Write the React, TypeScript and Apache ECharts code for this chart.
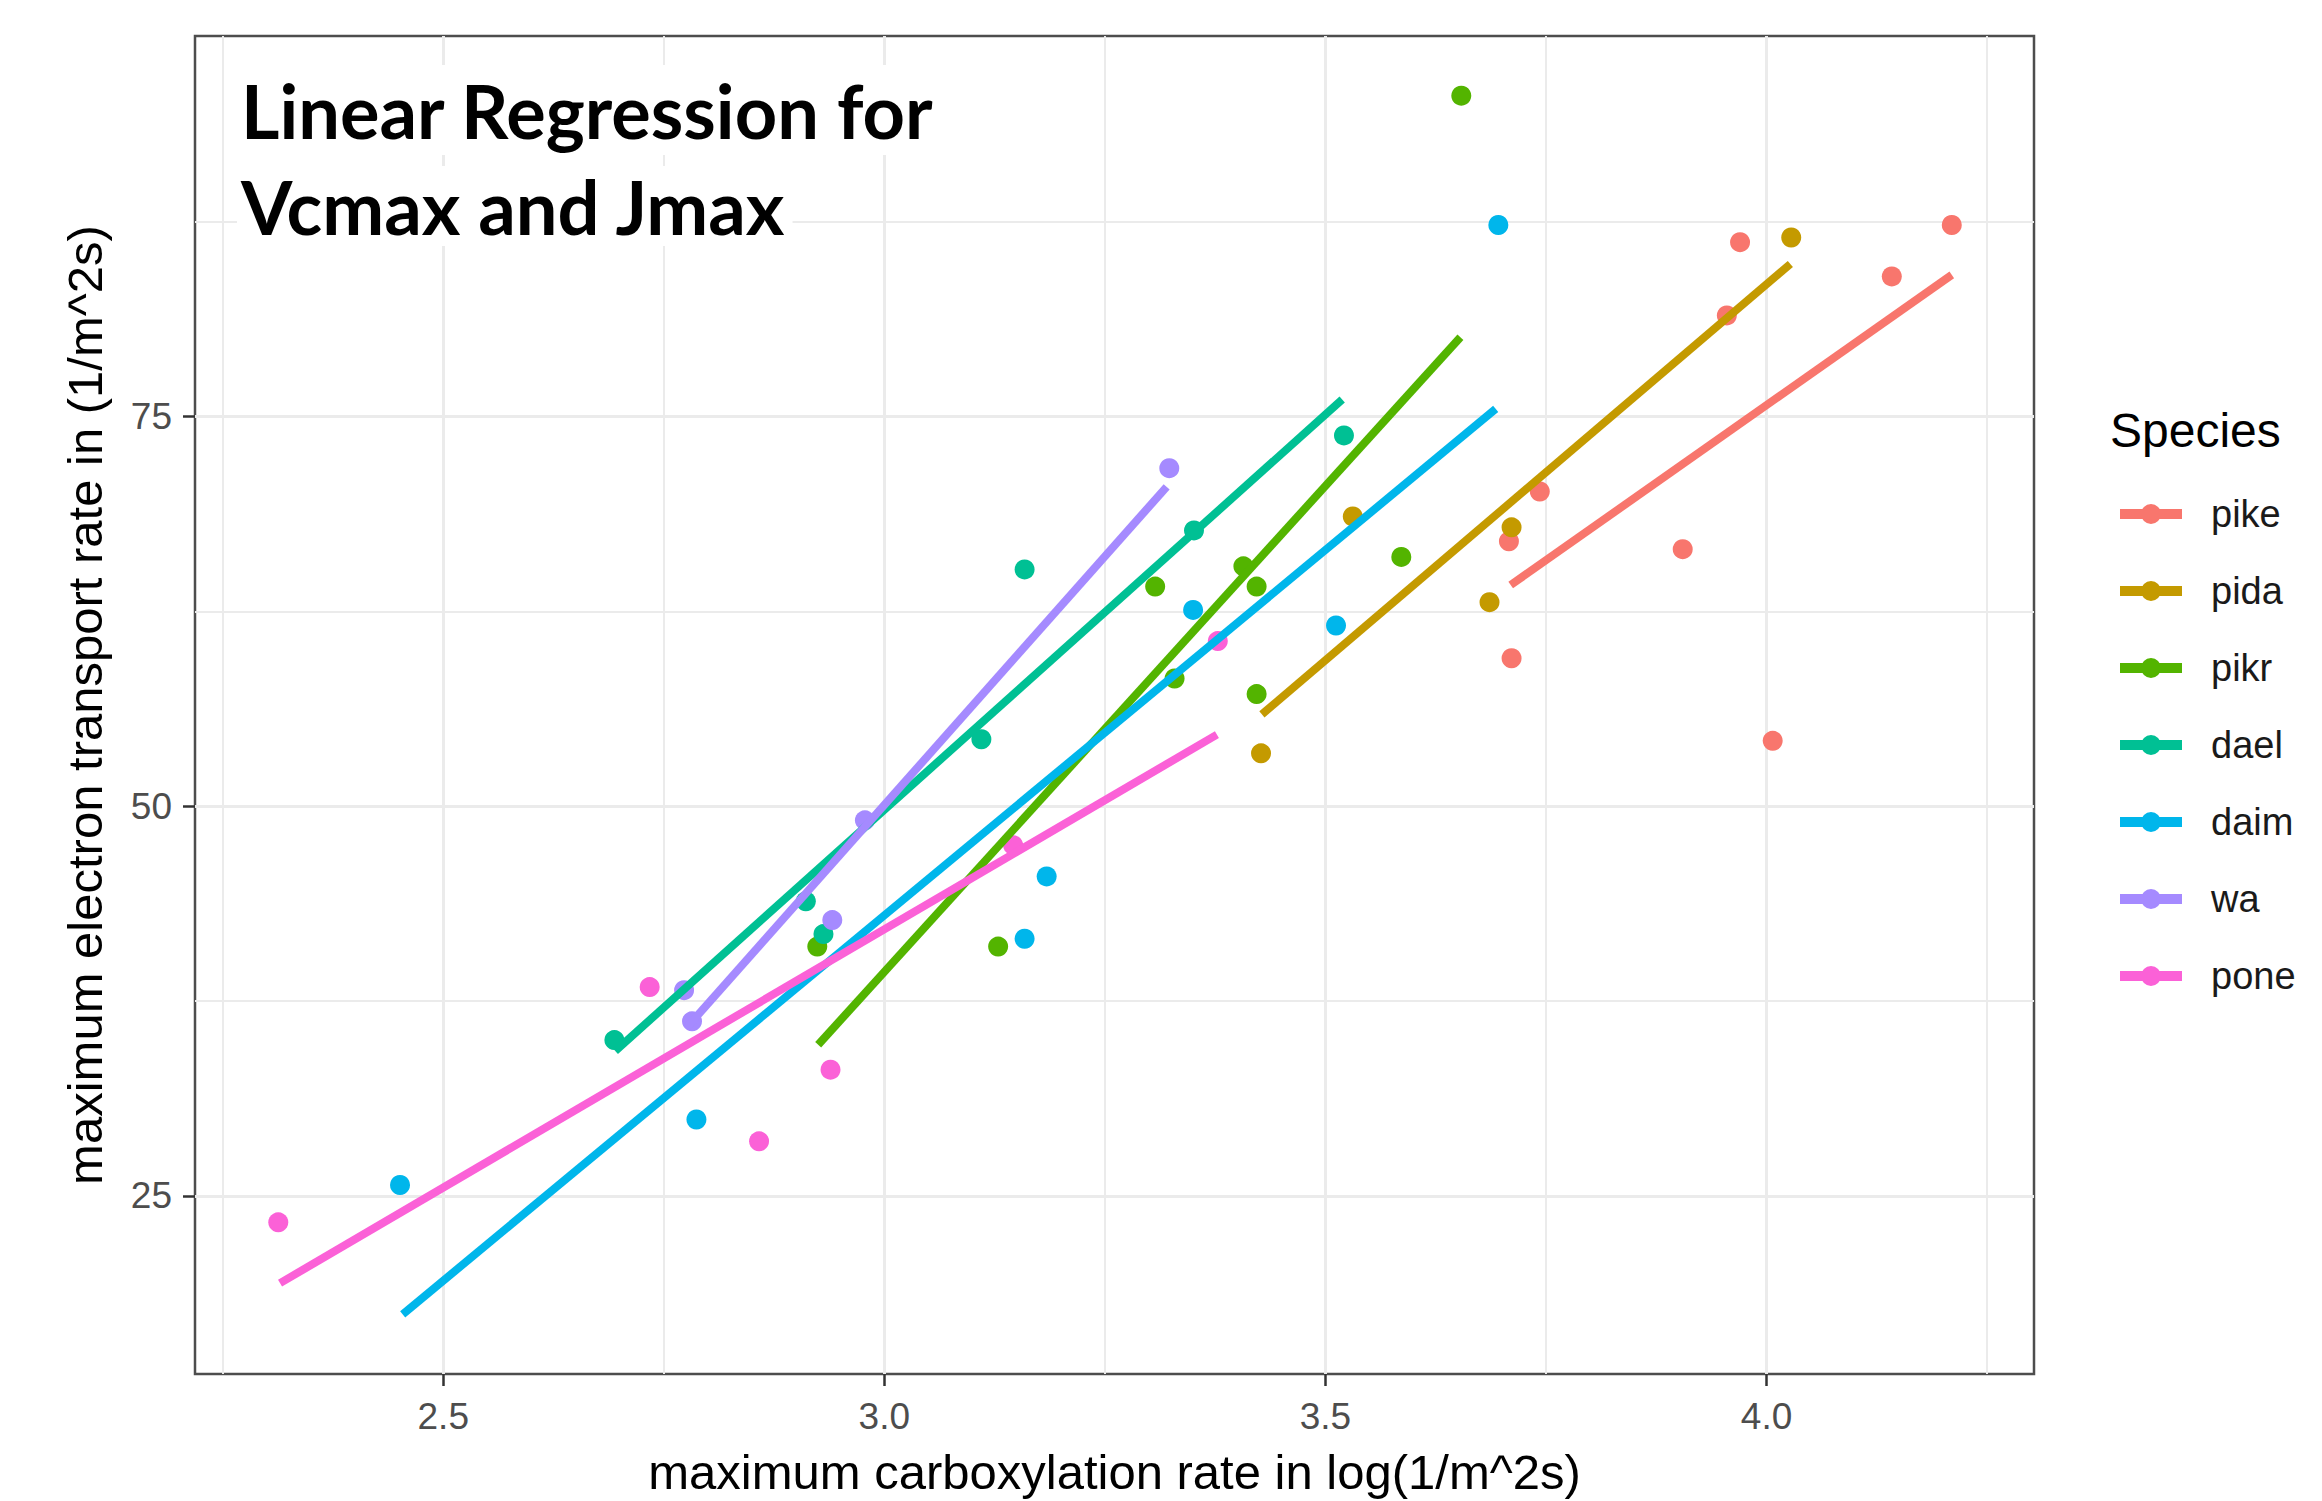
import React, { useEffect, useRef } from "react";
import * as echarts from "echarts";

// ---- categories & colours ----
const species = ["pike", "pida", "pikr", "dael", "daim", "wa", "pone"];
const speciesColors = ["#F8766D", "#C49A00", "#53B400", "#00C094", "#00B6EB", "#A58AFF", "#FB61D7"];

// ---- observed points (x = log Vcmax, y = Jmax) ----
const pikeX = [3.708, 3.711, 3.743, 3.905, 3.955, 3.970, 4.007, 4.142, 4.210];
const pikeY = [67.0, 59.5, 70.2, 66.5, 81.5, 86.2, 54.2, 84.0, 87.3];
const pidaX = [3.427, 3.531, 3.686, 3.711, 4.028];
const pidaY = [53.4, 68.6, 63.1, 67.9, 86.5];
const pikrX = [2.924, 3.129, 3.307, 3.329, 3.407, 3.422, 3.422, 3.586, 3.654];
const pikrY = [41.0, 41.0, 64.1, 58.2, 65.4, 64.1, 57.2, 66.0, 95.6];
const daelX = [2.694, 2.911, 2.931, 3.110, 3.159, 3.351, 3.521];
const daelY = [35.0, 43.9, 41.8, 54.3, 65.2, 67.7, 73.8];
const daimX = [2.451, 2.787, 3.159, 3.184, 3.350, 3.512, 3.696];
const daimY = [25.7, 29.9, 41.5, 45.5, 62.6, 61.6, 87.3];
const waX = [2.773, 2.782, 2.941, 2.978, 3.323];
const waY = [38.2, 36.2, 42.7, 49.1, 71.7];
const poneX = [2.313, 2.734, 2.858, 2.939, 3.146, 3.378];
const poneY = [23.3, 38.4, 28.5, 33.1, 47.5, 60.6];

// ---- fitted regression lines (endpoints) ----
const pikeFitX = [3.710, 4.210];
const pikeFitY = [64.2, 84.1];
const pidaFitX = [3.428, 4.027];
const pidaFitY = [55.9, 84.8];
const pikrFitX = [2.925, 3.653];
const pikrFitY = [34.7, 80.1];
const daelFitX = [2.695, 3.519];
const daelFitY = [34.3, 76.1];
const daimFitX = [2.454, 3.693];
const daimFitY = [17.4, 75.5];
const waFitX = [2.776, 3.320];
const waFitY = [35.8, 70.5];
const poneFitX = [2.315, 3.377];
const poneFitY = [19.4, 54.6];

// ---- axes ----
const xLimits = [2.2186, 4.3032];
const yLimits = [13.57, 99.43];
const xMajorTicks = [2.5, 3.0, 3.5, 4.0];
const xMinorTicks = [2.25, 2.75, 3.25, 3.75, 4.25];
const yMajorTicks = [25, 50, 75];
const yMinorTicks = [37.5, 62.5, 87.5];
const xTitle = "maximum carboxylation rate in log(1/m^2s)";
const yTitle = "maximum electron transport rate in (1/m^2s)";
const chartTitleLines = ["Linear Regression for", "Vcmax and Jmax"];
const legendTitle = "Species";

const pointsX = [pikeX, pidaX, pikrX, daelX, daimX, waX, poneX];
const pointsY = [pikeY, pidaY, pikrY, daelY, daimY, waY, poneY];
const fitsX = [pikeFitX, pidaFitX, pikrFitX, daelFitX, daimFitX, waFitX, poneFitX];
const fitsY = [pikeFitY, pidaFitY, pikrFitY, daelFitY, daimFitY, waFitY, poneFitY];

const FONT = "Liberation Sans, Arial, Helvetica, sans-serif";
const TITLE_FONT = "Lato, Open Sans, sans-serif";

function buildOption() {
  const scatterSeries = species.map((name, i) => ({
    type: "scatter",
    name,
    data: pointsX[i].map((x, j) => [x, pointsY[i][j]]),
    symbol: "circle",
    symbolSize: 20,
    itemStyle: { color: speciesColors[i], opacity: 1 },
    z: 2,
    silent: true,
  }));
  const lineSeries = species.map((name, i) => ({
    type: "line",
    name,
    data: fitsX[i].map((x, j) => [x, fitsY[i][j]]),
    symbol: "none",
    showSymbol: false,
    itemStyle: { color: speciesColors[i] },
    lineStyle: { color: speciesColors[i], width: 8, cap: "butt" },
    z: 3,
    silent: true,
  }));

  return {
    animation: false,
    backgroundColor: "#ffffff",
    grid: {
      left: 195,
      top: 36,
      width: 1839,
      height: 1340,
      show: true,
      borderColor: "#4d4d4d",
      borderWidth: 2.5,
      backgroundColor: "transparent",
    },
    xAxis: [
      {
        type: "value",
        min: xLimits[0],
        max: xLimits[1],
        position: "bottom",
        axisLine: { show: false },
        axisTick: { show: true, length: 12, lineStyle: { color: "#333333", width: 2.5 }, customValues: xMajorTicks },
        axisLabel: {
          customValues: xMajorTicks,
          formatter: (v: number) => v.toFixed(1),
          fontSize: 37,
          color: "#4D4D4D",
          fontFamily: FONT,
          margin: 24,
        },
        splitLine: { show: true, lineStyle: { color: "#EBEBEB", width: 3 } },
        name: xTitle,
        nameLocation: "middle",
        nameGap: 73,
        nameTextStyle: { fontSize: 49, color: "#000000", fontFamily: FONT },
      },
      {
        type: "value",
        min: xLimits[0],
        max: xLimits[1],
        position: "top",
        axisLine: { show: false },
        axisTick: { show: false, customValues: xMinorTicks },
        axisLabel: { show: false },
        splitLine: { show: true, lineStyle: { color: "#EBEBEB", width: 2 } },
      },
    ],
    yAxis: [
      {
        type: "value",
        min: yLimits[0],
        max: yLimits[1],
        position: "left",
        axisLine: { show: false },
        axisTick: { show: true, length: 12, lineStyle: { color: "#333333", width: 2.5 }, customValues: yMajorTicks },
        axisLabel: {
          customValues: yMajorTicks,
          fontSize: 37,
          color: "#4D4D4D",
          fontFamily: FONT,
          margin: 23,
        },
        splitLine: { show: true, lineStyle: { color: "#EBEBEB", width: 3 } },
        name: yTitle,
        nameLocation: "middle",
        nameGap: 86,
        nameTextStyle: { fontSize: 49, color: "#000000", fontFamily: FONT },
      },
      {
        type: "value",
        min: yLimits[0],
        max: yLimits[1],
        position: "right",
        axisLine: { show: false },
        axisTick: { show: false, customValues: yMinorTicks },
        axisLabel: { show: false },
        splitLine: { show: true, lineStyle: { color: "#EBEBEB", width: 2 } },
      },
    ],
    legend: {
      orient: "vertical",
      left: 2115,
      top: 490,
      itemWidth: 62,
      itemHeight: 20,
      itemGap: 39,
      selectedMode: false,
      icon: "path://M0,5H62V15H0Z M21,10A10,10 0 1,1 41,10A10,10 0 1,1 21,10Z",
      data: species,
      textStyle: {
        fontSize: 38,
        color: "#1a1a1a",
        fontFamily: FONT,
        padding: [0, 0, 0, 24],
      },
    },
    graphic: [
      {
        type: "text",
        x: 237,
        y: 110,
        silent: true,
        z: 10,
        style: {
          text: chartTitleLines[0],
          fontSize: 74,
          fontWeight: "bold",
          fontFamily: TITLE_FONT,
          fill: "#000000",
          align: "left",
          verticalAlign: "middle",
          backgroundColor: "#ffffff",
          padding: [4, 6, 12, 4],
        },
      },
      {
        type: "text",
        x: 237,
        y: 206,
        silent: true,
        z: 10,
        style: {
          text: chartTitleLines[1],
          fontSize: 74,
          fontWeight: "bold",
          fontFamily: TITLE_FONT,
          fill: "#000000",
          align: "left",
          verticalAlign: "middle",
          backgroundColor: "#ffffff",
          padding: [0, 6, 6, 4],
        },
      },
      {
        type: "text",
        x: 2110,
        y: 430,
        silent: true,
        style: {
          text: legendTitle,
          fontSize: 48,
          fontFamily: FONT,
          fill: "#000000",
          align: "left",
          verticalAlign: "middle",
        },
      },
    ],
    series: [...scatterSeries, ...lineSeries],
  };
}

export default function App() {
  const ref = useRef<HTMLDivElement>(null);
  useEffect(() => {
    if (!ref.current) return;
    const chart = echarts.init(ref.current, null, { renderer: "svg" });
    chart.setOption(buildOption() as any);
    return () => chart.dispose();
  }, []);
  return (
    <div
      ref={ref}
      style={{ position: "absolute", left: 0, top: 0, width: 2322, height: 1501, background: "#ffffff" }}
    />
  );
}
